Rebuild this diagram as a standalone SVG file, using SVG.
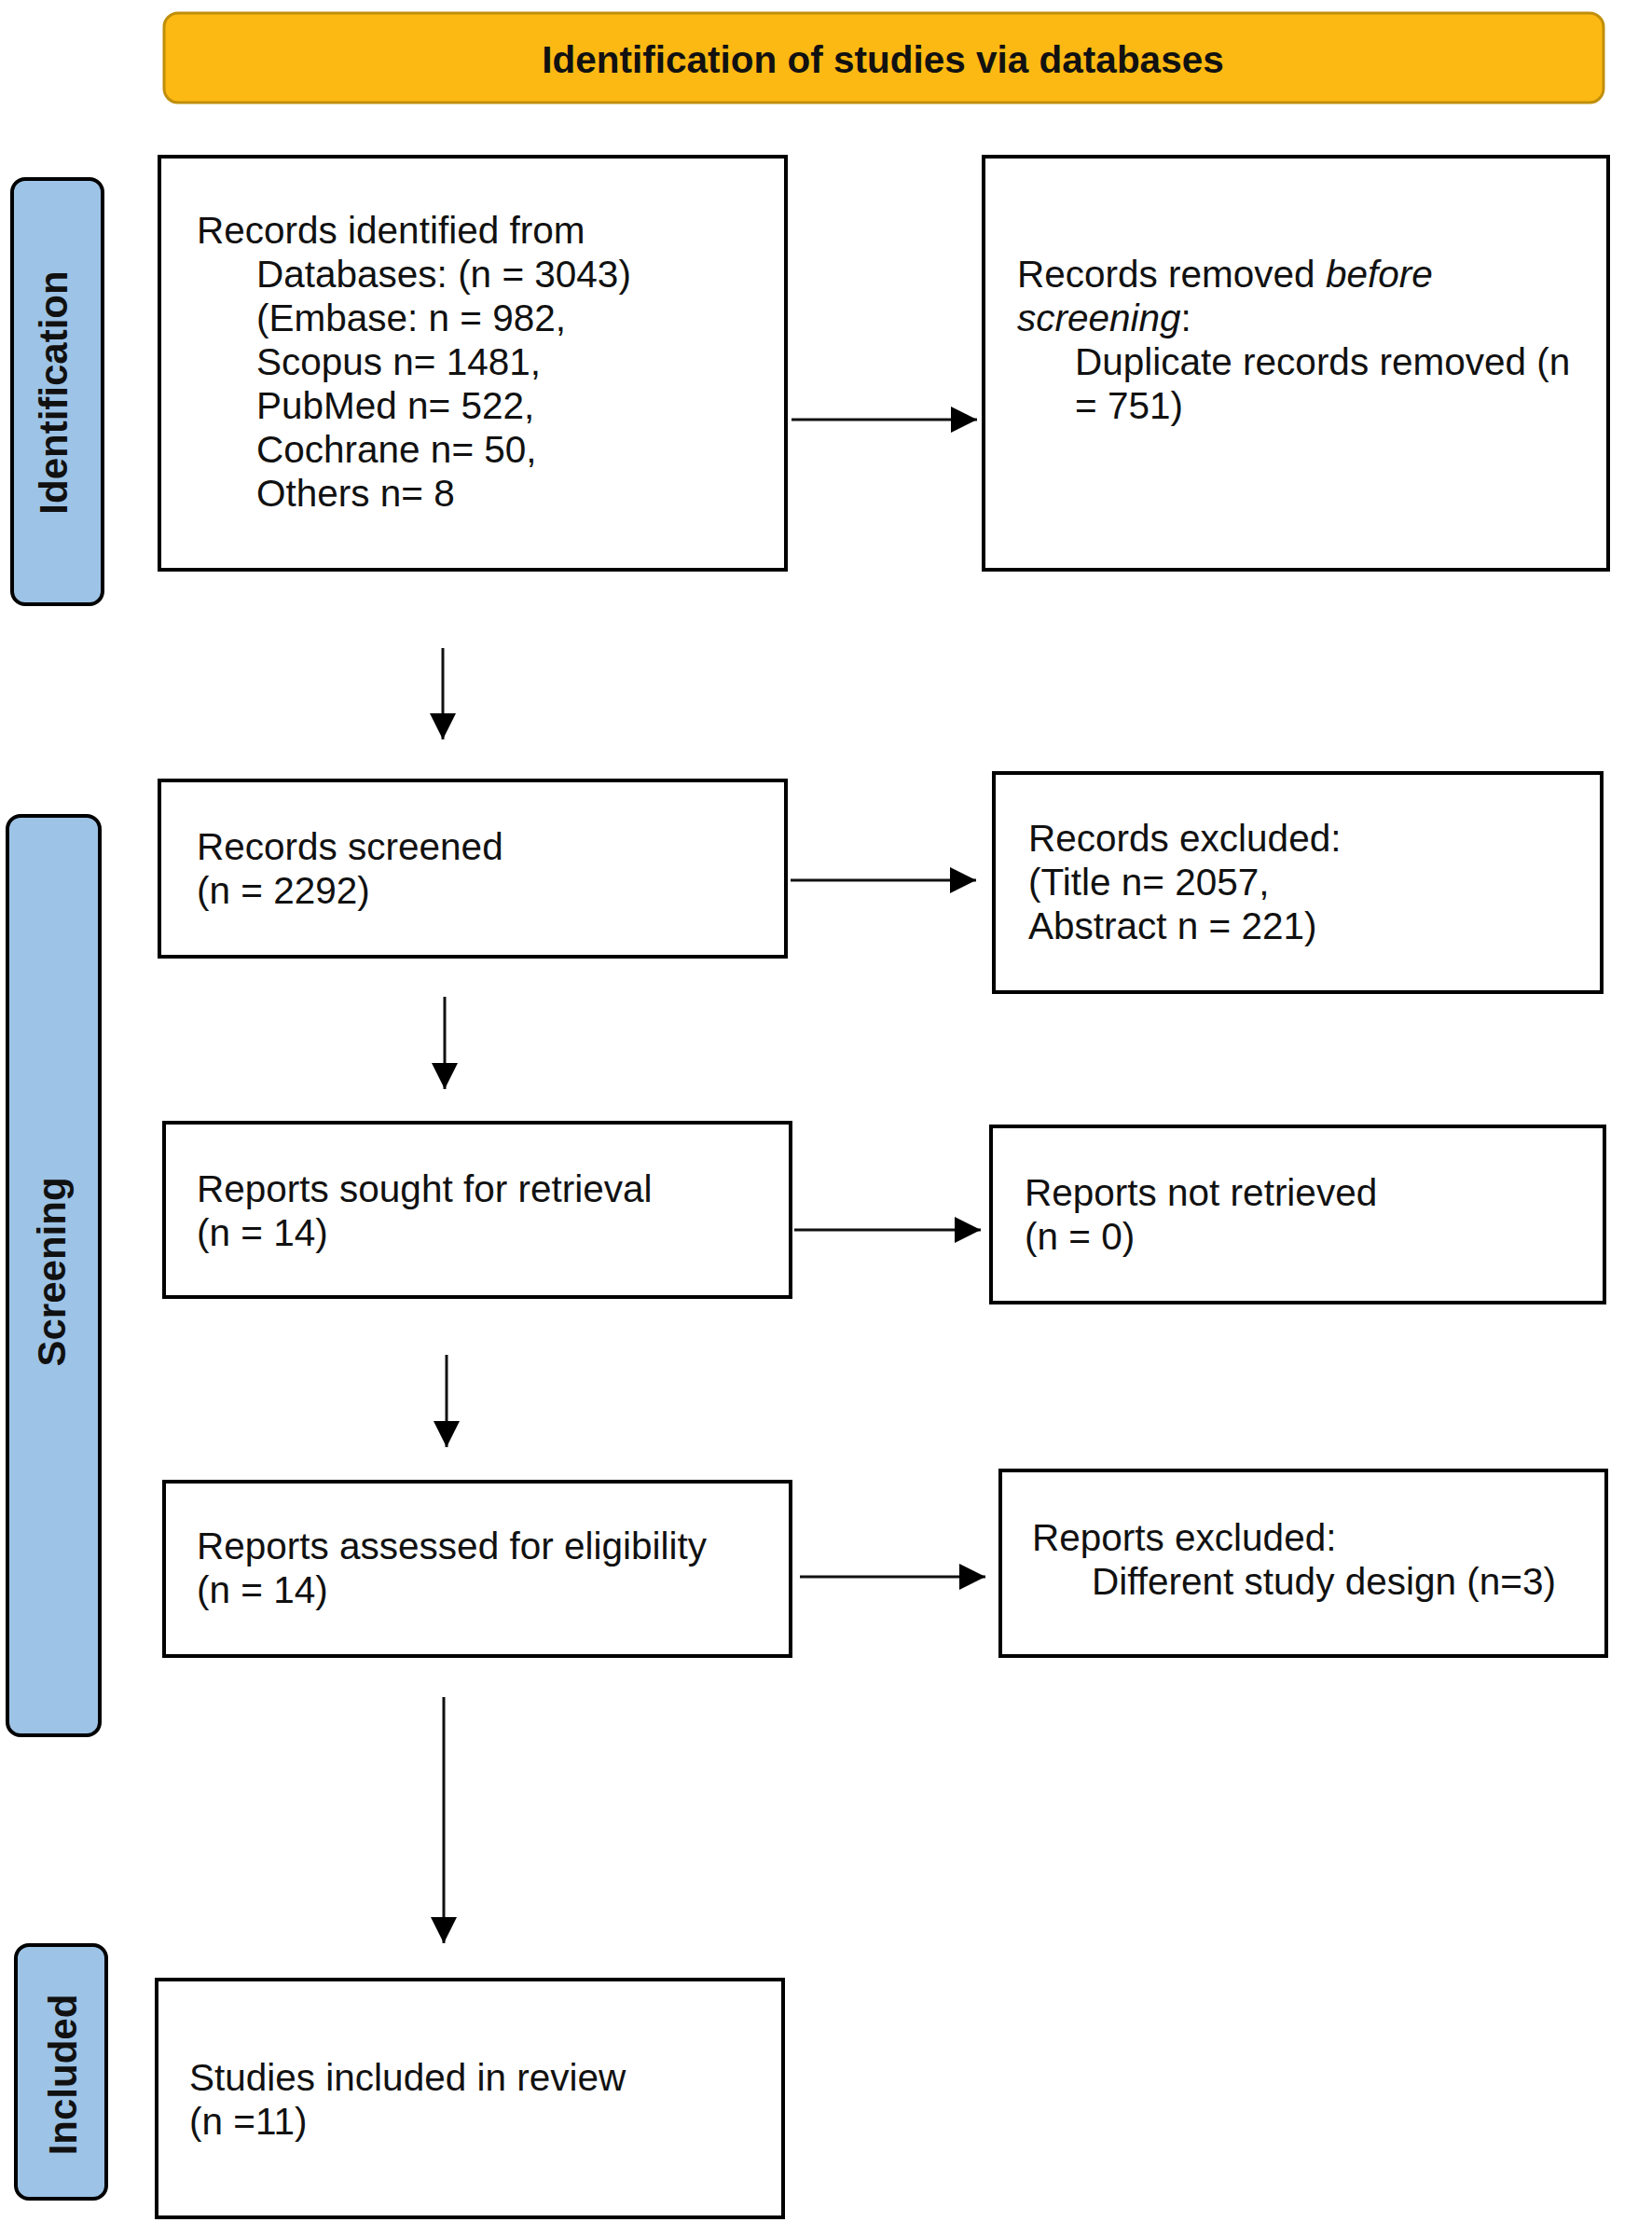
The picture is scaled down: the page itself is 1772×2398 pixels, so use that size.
<svg xmlns="http://www.w3.org/2000/svg" width="1772" height="2398" viewBox="0 0 1772 2398">
<defs>
<style>
.box{fill:#fff;stroke:#000;stroke-width:4}
.lbl{fill:#9DC3E6;stroke:#000;stroke-width:4}
.hdr{fill:#FDB913;stroke:#C08E0A;stroke-width:3}
.t{font-family:"Liberation Sans",Arial,sans-serif;font-size:40.5px;fill:#111}
.tb{font-family:"Liberation Sans",Arial,sans-serif;font-size:42px;font-weight:bold;fill:#111}
.ht{font-family:"Liberation Sans",Arial,sans-serif;font-size:40.5px;font-weight:bold;fill:#111}
.c{stroke:#111;stroke-width:3;fill:none}
</style>
<marker id="ah" markerUnits="userSpaceOnUse" markerWidth="28" markerHeight="28" viewBox="0 0 26 26" refX="26" refY="13" orient="auto">
<path d="M0,0 L26,13 L0,26 Z" fill="#000"/>
</marker>
</defs>
<rect width="1772" height="2398" fill="#fff"/>

<g id="header">
<rect class="hdr" x="176" y="14" width="1544" height="96" rx="15"/>
<text class="ht" x="947" y="78" text-anchor="middle">Identification of studies via databases</text>
</g>

<g id="label-identification">
<rect class="lbl" x="13" y="192" width="97" height="456" rx="14"/>
<text class="tb" transform="translate(72,421) rotate(-90)" text-anchor="middle">Identification</text>
</g>
<g id="label-screening">
<rect class="lbl" x="8" y="875" width="99" height="986" rx="14"/>
<text class="tb" transform="translate(70,1364) rotate(-90)" text-anchor="middle">Screening</text>
</g>
<g id="label-included">
<rect class="lbl" x="17" y="2086" width="97" height="272" rx="14"/>
<text class="tb" transform="translate(82,2225) rotate(-90)" text-anchor="middle">Included</text>
</g>

<g id="records-identified">
<rect class="box" x="171" y="168" width="672" height="443"/>
<text class="t" x="211" y="261">Records identified from</text>
<text class="t" x="275" y="308">Databases: (n = 3043)</text>
<text class="t" x="275" y="355">(Embase: n = 982,</text>
<text class="t" x="275" y="402">Scopus n= 1481,</text>
<text class="t" x="275" y="449">PubMed n= 522,</text>
<text class="t" x="275" y="496">Cochrane n= 50,</text>
<text class="t" x="275" y="543">Others n= 8</text>
</g>

<g id="records-removed">
<rect class="box" x="1055" y="168" width="670" height="443"/>
<text class="t" x="1091" y="308">Records removed <tspan font-style="italic">before</tspan></text>
<text class="t" x="1091" y="355"><tspan font-style="italic">screening</tspan>:</text>
<text class="t" x="1153" y="402">Duplicate records removed (n</text>
<text class="t" x="1153" y="449">= 751)</text>
</g>

<g id="records-screened">
<rect class="box" x="171" y="837" width="672" height="189"/>
<text class="t" x="211" y="922">Records screened</text>
<text class="t" x="211" y="969">(n = 2292)</text>
</g>

<g id="records-excluded">
<rect class="box" x="1066" y="829" width="652" height="235"/>
<text class="t" x="1103" y="913">Records excluded:</text>
<text class="t" x="1103" y="960">(Title n= 2057,</text>
<text class="t" x="1103" y="1007">Abstract n = 221)</text>
</g>

<g id="reports-sought">
<rect class="box" x="176" y="1204" width="672" height="187"/>
<text class="t" x="211" y="1289">Reports sought for retrieval</text>
<text class="t" x="211" y="1336">(n = 14)</text>
</g>

<g id="reports-not-retrieved">
<rect class="box" x="1063" y="1208" width="658" height="189"/>
<text class="t" x="1099" y="1293">Reports not retrieved</text>
<text class="t" x="1099" y="1340">(n = 0)</text>
</g>

<g id="reports-assessed">
<rect class="box" x="176" y="1589" width="672" height="187"/>
<text class="t" x="211" y="1672">Reports assessed for eligibility</text>
<text class="t" x="211" y="1719">(n = 14)</text>
</g>

<g id="reports-excluded">
<rect class="box" x="1073" y="1577" width="650" height="199"/>
<text class="t" x="1107" y="1663">Reports excluded:</text>
<text class="t" x="1171" y="1710">Different study design (n=3)</text>
</g>

<g id="studies-included">
<rect class="box" x="168" y="2123" width="672" height="255"/>
<text class="t" x="203" y="2242">Studies included in review</text>
<text class="t" x="203" y="2289">(n =11)</text>
</g>

<g id="connectors">
<line class="c" x1="849" y1="450" x2="1048" y2="450" marker-end="url(#ah)"/>
<line class="c" x1="475" y1="695" x2="475" y2="793" marker-end="url(#ah)"/>
<line class="c" x1="848" y1="944" x2="1047" y2="944" marker-end="url(#ah)"/>
<line class="c" x1="477" y1="1069" x2="477" y2="1168" marker-end="url(#ah)"/>
<line class="c" x1="852" y1="1319" x2="1052" y2="1319" marker-end="url(#ah)"/>
<line class="c" x1="479" y1="1453" x2="479" y2="1552" marker-end="url(#ah)"/>
<line class="c" x1="858" y1="1691" x2="1057" y2="1691" marker-end="url(#ah)"/>
<line class="c" x1="476" y1="1820" x2="476" y2="2084" marker-end="url(#ah)"/>
</g>
</svg>
